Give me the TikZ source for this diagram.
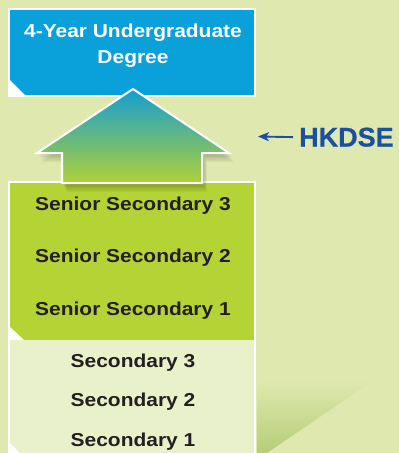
\documentclass[tikz,border=0pt]{standalone}
\usepackage{fontspec}
\newfontfamily\lblfont[FakeStretch=1.12]{Liberation Sans}
\newfontfamily\hkfont[FakeBold=0.6]{Liberation Sans}
\usetikzlibrary{arrows.meta}
\definecolor{bg}{HTML}{DFE9AF}
\definecolor{degblue}{HTML}{0AA0DA}
\definecolor{srgreen}{HTML}{B4D334}
\definecolor{seclight}{HTML}{E9F1CB}
\definecolor{txtdark}{HTML}{231F20}
\definecolor{hkblue}{HTML}{1B4F9F}
\definecolor{arrtop}{HTML}{149ED2}
\definecolor{arrmid}{HTML}{62B0A0}
\definecolor{arrbot}{HTML}{AFD137}
\definecolor{folddark}{HTML}{B5CE78}
\begin{document}
\begin{tikzpicture}[x=1pt,y=-1pt,
  panel/.style={inner sep=0pt, outer sep=0pt, anchor=north west},
  lbl/.style={anchor=base, font=\lblfont\bfseries\fontsize{18.7}{25}\selectfont, text=txtdark, inner sep=0pt},
  hkarrow/.style={draw=hkblue, line width=1.9pt, -{Stealth[length=11pt,width=9pt,inset=3pt]}},
  foldtri/.style={fill=white}
]
\useasboundingbox (0,0) rectangle (399,453);
\clip (0,0) rectangle (399,453);
% background
\fill[bg] (0,0) rectangle (399,453);
\shade[top color=bg, bottom color=folddark] (257,380) -- (374,380) -- (267,453) -- (257,453) -- cycle;
\fill[bg] (374,380) -- (399,363) -- (399,380) -- cycle;

% degree box
\node[panel, anchor=center, fill=degblue, draw=white, line width=2pt, minimum width=246pt, minimum height=87pt] (deg) at (132,52.5) {};
\fill[foldtri] (10,80) -- (25,95) -- (10,95) -- cycle;
\node[lbl, text=white] (deg1) at (133,37) {4-Year Undergraduate};
\node[lbl, text=white] (deg2) at (133,63) {Degree};

% lower column
\fill[white] (8,181) rectangle (256,453);
\node[panel, fill=srgreen, minimum width=244pt, minimum height=157pt] (senior) at (10,183) {};
\node[panel, fill=seclight, minimum width=244pt, minimum height=113pt] (junior) at (10,340) {};
\fill[foldtri] (10,327) -- (24,340) -- (10,340) -- cycle;
\fill[foldtri] (10,443) -- (20,453) -- (10,453) -- cycle;

\node[lbl] (ss3) at (133,210.5) {Senior Secondary 3};
\node[lbl] (ss2) at (133,262) {Senior Secondary 2};
\node[lbl] (ss1) at (133,315) {Senior Secondary 1};
\node[lbl] (s3) at (133,367) {Secondary 3};
\node[lbl] (s2) at (133,406) {Secondary 2};
\node[lbl] (s1) at (133,446) {Secondary 1};

% arrow shadow
\foreach \i in {1,...,7}{
  \fill[black, opacity=0.04, shift={(\i*0.7,\i*1.3)}]
    (133,89) -- (229,153) -- (202,153) -- (202,183) -- (62,183) -- (62,153) -- (37,153) -- cycle;
}
% big up arrow
\shade[top color=arrtop, middle color=arrmid, bottom color=arrbot, draw=white, line width=2pt, line join=miter]
  (133,89) -- (229,153) -- (202,153) -- (202,183) -- (62,183) -- (62,153) -- (37,153) -- cycle;

% HKDSE
\node[anchor=base west, font=\hkfont\bfseries\fontsize{27}{30}\selectfont, text=hkblue, inner sep=0pt] (hk) at (299,146.5) {HKDSE};
\coordinate (hkend) at (258,136.5);
\draw[hkarrow, shorten <=6pt] (hk.west) -- (hkend);
\end{tikzpicture}
\end{document}
